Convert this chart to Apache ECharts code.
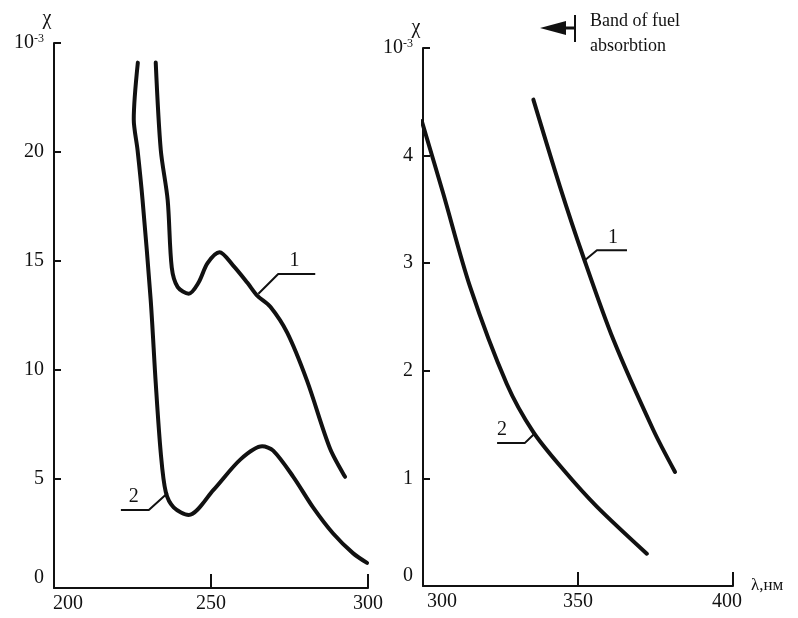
<!DOCTYPE html>
<html>
<head>
<meta charset="utf-8">
<script src="https://cdn.jsdelivr.net/npm/echarts@6/dist/echarts.min.js"></script>
<style>
html,body{margin:0;padding:0;background:#fff;}
#chart{width:798px;height:618px;}
</style>
</head>
<body>
<div id="chart"></div>
<script>
// left panel (200-300 nm), chi in 10^-3
var leftLambda1 = [232.4, 234.0, 236.2, 237.5, 239.4, 242.9, 246.0, 248.9, 252.7, 257.0, 261.6, 264.8, 268.9, 274.3, 280.6, 287.9, 292.7];
var leftChi1    = [24.1, 20.1, 17.8, 14.7, 13.8, 13.5, 14.0, 14.9, 15.4, 14.8, 14.0, 13.4, 12.9, 11.7, 9.5, 6.4, 5.1];
var leftLambda2 = [226.7, 225.4, 226.6, 228.2, 230.8, 232.4, 234.0, 235.6, 238.1, 242.9, 250.8, 259.4, 266.3, 269.8, 276.2, 282.5, 288.9, 295.2, 299.7];
var leftChi2    = [24.1, 21.5, 20.1, 17.8, 13.2, 9.4, 6.2, 4.4, 3.7, 3.35, 4.5, 5.9, 6.5, 6.3, 5.1, 3.7, 2.5, 1.6, 1.15];

// right panel (300-400 nm)
var rightLambda1 = [335.6, 344.2, 351.7, 361.4, 374.3, 381.3];
var rightChi1    = [4.52, 3.71, 3.06, 2.29, 1.45, 1.06];
var rightLambda2 = [299.6, 306.5, 315.2, 327.0, 335.6, 345.3, 356.0, 372.2];
var rightChi2    = [4.32, 3.65, 2.78, 1.88, 1.43, 1.08, 0.74, 0.30];

// leader lines for curve numbers: [curve point, knee, end]
var leaderLeft1  = [[265.1, 13.5], [271.4, 14.4], [283.2, 14.4]];
var leaderLeft2  = [[236.2, 4.36], [230.2, 3.58], [221.3, 3.58]];
var leaderRight1 = [[352.3, 3.03], [356.1, 3.12], [365.8, 3.12]];
var leaderRight2 = [[336.1, 1.42], [332.9, 1.33], [323.9, 1.33]];
var numberLeft  = [['1', 276.6, 15.0], ['2', 225.4, 4.2]];
var numberRight = [['1', 361.3, 3.24], ['2', 325.5, 1.45]];

var leftXTicks = [200, 250, 300];
var rightXTicks = [300, 350, 400];

function pairs(xs, ys) {
  return xs.map(function (x, i) { return [x, ys[i]]; });
}

var serif = 'Liberation Serif';
var ink = '#111';

var myChart = echarts.init(document.getElementById('chart'));

function curve(name, xs, ys, idx) {
  return {
    name: name, type: 'line', xAxisIndex: idx, yAxisIndex: idx,
    data: pairs(xs, ys), smooth: 0.3, showSymbol: false,
    lineStyle: {color: ink, width: 4, cap: 'round', join: 'round'}
  };
}
function leader(pts, idx) {
  return {
    type: 'line', xAxisIndex: idx, yAxisIndex: idx, data: pts,
    showSymbol: false, silent: true,
    lineStyle: {color: ink, width: 2}
  };
}

var richLabels = {
  b: {fontFamily: serif, fontSize: 20, color: ink},
  s: {fontFamily: serif, fontSize: 12, color: ink, verticalAlign: 'top', padding: [0, 0, 8, 0]},
  z: {fontFamily: serif, fontSize: 20, color: ink, padding: [0, 0, 20, 0]},
  fx: {fontFamily: serif, fontSize: 20, color: ink, padding: [0, 0, 0, 28]},
  fr: {fontFamily: serif, fontSize: 20, color: ink, padding: [0, 0, 0, 38]},
  lr: {fontFamily: serif, fontSize: 20, color: ink, padding: [0, 12, 0, 0]}
};

function yAxisCfg(gi, max, step) {
  return {
    type: 'value', gridIndex: gi, min: 0, max: max, interval: step,
    name: 'χ', nameLocation: 'end', nameGap: gi === 0 ? 14 : 8,
    nameTextStyle: {fontFamily: serif, fontSize: 20, color: ink, padding: [0, 14, 0, 0]},
    axisLine: {show: true, lineStyle: {color: ink, width: 2}},
    axisTick: {show: true, inside: true, length: 7, lineStyle: {color: ink, width: 2}},
    splitLine: {show: false},
    axisLabel: {
      margin: 10, color: ink, fontFamily: serif, fontSize: 20, rich: richLabels,
      formatter: function (v) {
        if (v === max) return '{b|10}{s|-3}';
        if (v === 0) return '{z|0}';
        return '{b|' + v + '}';
      }
    }
  };
}

function xAxisCfg(gi, ticks, firstStyle, lastStyle) {
  return {
    type: 'value', gridIndex: gi, min: ticks[0], max: ticks[ticks.length - 1], interval: ticks[1] - ticks[0],
    axisLine: {show: true, onZero: false, lineStyle: {color: ink, width: 2}},
    axisTick: {show: true, inside: true, length: 14, lineStyle: {color: ink, width: 2}},
    splitLine: {show: false},
    axisLabel: {
      margin: 6, color: ink, fontFamily: serif, fontSize: 20, rich: richLabels,
      formatter: function (v) {
        if (v === ticks[0]) return '{' + firstStyle + '|' + v + '}';
        if (v === ticks[ticks.length - 1] && lastStyle) return '{' + lastStyle + '|' + v + '}';
        return '{b|' + v + '}';
      }
    }
  };
}

var rightX = xAxisCfg(1, rightXTicks, 'fr', 'lr');
rightX.name = 'λ,нм';
rightX.nameLocation = 'end';
rightX.nameGap = 18;
rightX.nameTextStyle = {fontFamily: serif, fontSize: 17, color: ink, padding: [0, 0, 16, 0]};

myChart.setOption({
  animation: false,
  backgroundColor: '#fff',
  grid: [
    {left: 54, top: 43, width: 314, height: 545},
    {left: 423, top: 48, width: 310, height: 538}
  ],
  xAxis: [xAxisCfg(0, leftXTicks, 'fx', null), rightX],
  yAxis: [yAxisCfg(0, 25, 5), yAxisCfg(1, 5, 1)],
  series: [
    curve('1', leftLambda1, leftChi1, 0),
    curve('2', leftLambda2, leftChi2, 0),
    curve('1', rightLambda1, rightChi1, 1),
    curve('2', rightLambda2, rightChi2, 1),
    leader(leaderLeft1, 0),
    leader(leaderLeft2, 0),
    leader(leaderRight1, 1),
    leader(leaderRight2, 1)
  ]
});

// band arrow + curve numbers (numbers placed through the axes)
var gfx = [
  {type: 'polygon', shape: {points: [[540, 28], [566, 21], [566, 35]]}, style: {fill: ink}},
  {type: 'line', shape: {x1: 560, y1: 28, x2: 575, y2: 28}, style: {stroke: ink, lineWidth: 3}},
  {type: 'line', shape: {x1: 575, y1: 15, x2: 575, y2: 42}, style: {stroke: ink, lineWidth: 2}},
  {type: 'text', left: 590, top: 12, style: {text: 'Band of fuel', font: '18px "Liberation Serif"', fill: ink}},
  {type: 'text', left: 590, top: 37, style: {text: 'absorbtion', font: '18px "Liberation Serif"', fill: ink}}
];
[[numberLeft, 0], [numberRight, 1]].forEach(function (g) {
  g[0].forEach(function (d) {
    var p = myChart.convertToPixel({gridIndex: g[1]}, [d[1], d[2]]);
    gfx.push({type: 'text', x: p[0], y: p[1],
      style: {text: d[0], font: '20px "Liberation Serif"', fill: ink, align: 'center', verticalAlign: 'middle'}});
  });
});
myChart.setOption({graphic: gfx});
</script>
</body>
</html>
